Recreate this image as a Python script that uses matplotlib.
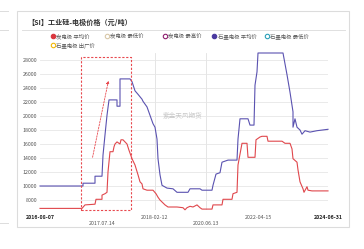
import matplotlib
matplotlib.use('Agg')
import matplotlib.pyplot as plt
from matplotlib.patches import Rectangle, FancyArrowPatch
from matplotlib.lines import Line2D

plt.rcParams['font.family'] = ['Noto Sans CJK SC', 'DejaVu Sans']

# x is a trading-period index along the category axis
blue_x = [0, 43, 43, 55, 55, 62, 63, 65, 67, 69, 77, 77, 80, 80, 90, 92, 95, 98, 102,
          103, 107, 110, 113, 115, 117, 118, 120, 122, 127, 133, 137, 148, 150, 160, 162, 172,
          173, 176, 180, 182, 188, 197, 198, 200, 208, 210, 214, 215, 217, 218, 243, 247, 250,
          253, 253, 255, 257, 260, 262, 265, 270, 277, 288]
blue_y = [10000, 10000, 10400, 10400, 11400, 11400, 14400, 17300, 20100, 22300, 22300, 21400,
          21400, 25300, 25300, 24900, 23600, 23100, 22400,
          22100, 21300, 20100, 18900, 18400, 16700, 13900, 11600, 10100, 9700, 9600, 9100,
          9100, 9600, 9600, 9400, 9400, 10100, 11700, 11900, 13400, 13700, 13700, 16700, 19600,
          19600, 18700, 18700, 24400, 26300, 29000, 29000, 25900, 23400, 20600, 18400, 19600,
          18400, 18000, 17400, 17900, 17700, 17900, 18100]

red_x = [0, 42, 45, 55, 56, 62, 62, 65, 67, 68, 70, 73, 74, 75, 77, 80, 81, 83, 87, 89, 92,
         95, 98, 100, 102, 103, 107, 113, 116, 118, 120, 125, 128, 137, 143, 145, 147, 150, 153,
         157, 160, 162, 172, 173, 182, 183, 192, 193, 197, 198, 202, 207, 208, 210, 215, 216, 220,
         222, 227, 228, 242, 245, 250, 252, 253, 257, 258, 260, 263, 264, 267, 268, 272, 288]
red_y = [6800, 6800, 7300, 7400, 8100, 8100, 8700, 8900, 9100, 12000, 14900, 14900, 15600,
         16000, 16300, 16000, 16600, 16600, 16000, 15100, 13900, 13000, 11600, 10600, 10300,
         9600, 9400, 9400, 8900, 8400, 8000, 7300, 7000, 7000, 6900, 6600, 6900, 7100, 7000,
         7300, 6900, 6700, 6700, 7300, 7300, 8100, 8100, 8900, 9100, 13000, 16100, 16100, 14100,
         14100, 14100, 16600, 17000, 17100, 17100, 16400, 16400, 16100, 16100, 15300, 13900,
         13400, 12300, 10600, 9600, 9100, 9900, 9400, 9300, 9300]

y_ticks = [8000, 10000, 12000, 14000, 16000, 18000, 20000, 22000, 24000, 26000, 28000]
x_ticks = [0, 62, 115, 166, 218, 288]
x_labels = ['2016-08-07', '2017.07.14', '2018-02-12', '2020.06.13', '2022-04-15', '2024-06-31']

legend_names = ['炭电极 平均价', '炭电极 最低价', '炭电极 最高价',
                '石墨电极 平均价', '石墨电极 最低价', '石墨电极 出厂价']
legend_colors = ['#d9363e', '#d8c8a8', '#8e1f6f', '#4a3aa0', '#2aa0b8', '#f2b705']
legend_filled = [True, False, False, True, False, False]

W, H = 364, 249
fig = plt.figure(figsize=(W / 100, H / 100), dpi=100)
fig.patch.set_facecolor('white')


def fx(px):
    return px / W


def fy(py):
    return 1 - py / H


# card frame and bits of neighbouring panels
fig.add_artist(Rectangle((fx(17), fy(227)), fx(349) - fx(17), fy(11) - fy(227),
                         transform=fig.transFigure, fill=False, edgecolor='#dcdcdc', lw=0.8))
fig.add_artist(Line2D([fx(22), fx(345)], [fy(30), fy(30)], transform=fig.transFigure,
                      color='#e0e0e0', lw=0.7))
for py in [11, 30, 223]:
    fig.add_artist(Line2D([0, fx(8)], [fy(py), fy(py)], transform=fig.transFigure,
                          color='#dcdcdc', lw=0.7))

fig.text(fx(27), fy(22.5), '【SI】工业硅-电极价格（元/吨）', fontsize=5.1, fontweight='bold',
         color='#333333', va='center', ha='left')

# legend
leg_pos = [(53, 36), (107, 36), (165, 36), (214, 36), (267, 36), (53, 45)]
for name, col, filled, (px, py) in zip(legend_names, legend_colors, legend_filled, leg_pos):
    fig.add_artist(Line2D([fx(px)], [fy(py)], transform=fig.transFigure, marker='o',
                          markersize=3.2, markeredgewidth=0.8, markeredgecolor=col,
                          markerfacecolor=col if filled else 'white', linestyle='none'))
    fig.text(fx(px + 3.5), fy(py), name, fontsize=3.9, color='#555555', va='center', ha='left')

ax = fig.add_axes([fx(40), fy(209.8), fx(328) - fx(40), fy(53) - fy(209.8)])
ax.set_xlim(0, 288)
ax.set_ylim(6600, 29000)
for s in ax.spines.values():
    s.set_visible(False)
ax.set_yticks(y_ticks)
ax.set_yticklabels([str(v) for v in y_ticks], fontsize=3.8, color='#555555')
ax.tick_params(axis='y', length=0, pad=2)
ax.tick_params(axis='x', length=0, pad=4)
ax.grid(axis='y', color='#e6e6e6', lw=0.6)
for xv in [115, 166]:
    ax.axvline(xv, color='#e0e0e0', lw=0.6, zorder=0)
ax.set_xticks(x_ticks)
ax.set_xticklabels(x_labels, fontsize=3.8, color='#555555')
for i, lab in enumerate(ax.get_xticklabels()):
    if i in (1, 3):
        lab.set_y(-0.035)
    if i in (0, 5):
        lab.set_fontweight('bold')
        lab.set_color('#222222')

ax.plot(blue_x, blue_y, color='#5a52b0', lw=0.8, clip_on=False)
ax.plot(red_x, red_y, color='#e0474c', lw=0.8, clip_on=False)

fig.text(fx(183), fy(116), '紫金天风期货', fontsize=4.8, color='#c8c8c8', ha='center', va='center')

# highlight box and arrow
box = Rectangle((fx(81), fy(210)), fx(131) - fx(81), fy(57) - fy(210),
                transform=fig.transFigure, fill=False, edgecolor='#e8494f',
                lw=0.8, linestyle=(0, (2, 1.5)), zorder=10)
fig.add_artist(box)
fig.add_artist(FancyArrowPatch((fx(92), fy(160)), (fx(109), fy(78)), transform=fig.transFigure,
                               arrowstyle='-|>', mutation_scale=4, color='#e8494f', lw=0.6,
                               linestyle=(0, (2, 1.5)), zorder=10))

fig.savefig('out.png', dpi=100, facecolor='white')
